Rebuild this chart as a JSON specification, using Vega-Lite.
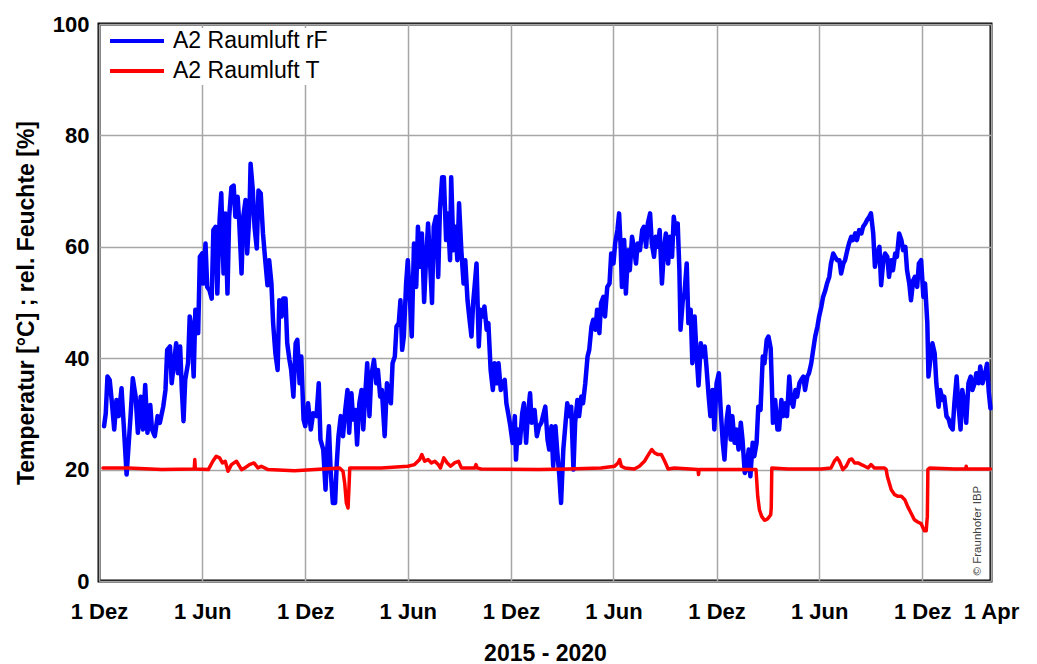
{
  "$schema": "https://vega.github.io/schema/vega-lite/v6.json",
  "width": 892,
  "height": 557,
  "autosize": {"type": "none"},
  "padding": {"left": 99, "top": 24, "right": 46, "bottom": 83},
  "background": "white",
  "datasets": {
    "rF": [
      {"date":"2015-12-10","value":27.8},{"date":"2015-12-13","value":30.1},{"date":"2015-12-16","value":36.7},{"date":"2015-12-20","value":36.1},{"date":"2015-12-24","value":31.9},{"date":"2015-12-28","value":27.2},
      {"date":"2016-01-01","value":32.5},{"date":"2016-01-05","value":29.6},{"date":"2016-01-10","value":34.6},{"date":"2016-01-14","value":27.8},{"date":"2016-01-19","value":19.1},{"date":"2016-01-22","value":23.6},{"date":"2016-01-26","value":29.6},{"date":"2016-01-30","value":36.4},
      {"date":"2016-02-04","value":33.1},{"date":"2016-02-08","value":26.6},{"date":"2016-02-13","value":33.1},{"date":"2016-02-17","value":27.2},{"date":"2016-02-21","value":35.2},{"date":"2016-02-25","value":26.6},
      {"date":"2016-03-01","value":31.6},{"date":"2016-03-04","value":27.2},{"date":"2016-03-09","value":26.0},{"date":"2016-03-14","value":29.6},{"date":"2016-03-18","value":28.4},{"date":"2016-03-24","value":31.3},{"date":"2016-03-28","value":34.3},{"date":"2016-03-31","value":41.5},
      {"date":"2016-04-05","value":42.1},{"date":"2016-04-08","value":35.5},{"date":"2016-04-12","value":39.1},{"date":"2016-04-16","value":42.7},{"date":"2016-04-19","value":37.3},{"date":"2016-04-23","value":42.1},{"date":"2016-04-26","value":34.3},{"date":"2016-04-29","value":28.7},
      {"date":"2016-05-02","value":36.1},{"date":"2016-05-07","value":39.1},{"date":"2016-05-10","value":47.5},{"date":"2016-05-13","value":45.7},{"date":"2016-05-17","value":36.7},{"date":"2016-05-20","value":48.7},{"date":"2016-05-25","value":44.5},{"date":"2016-05-28","value":58.2},
      {"date":"2016-06-01","value":58.8},{"date":"2016-06-03","value":53.4},{"date":"2016-06-07","value":60.6},{"date":"2016-06-10","value":52.8},{"date":"2016-06-14","value":52.2},{"date":"2016-06-18","value":50.7},{"date":"2016-06-21","value":63.0},{"date":"2016-06-25","value":63.6},{"date":"2016-06-28","value":51.6},
      {"date":"2016-07-02","value":64.8},{"date":"2016-07-05","value":69.6},{"date":"2016-07-09","value":55.2},{"date":"2016-07-12","value":66.0},{"date":"2016-07-16","value":51.6},{"date":"2016-07-19","value":65.4},{"date":"2016-07-23","value":70.7},{"date":"2016-07-27","value":71.0},{"date":"2016-07-30","value":65.4},
      {"date":"2016-08-03","value":69.0},{"date":"2016-08-06","value":64.2},{"date":"2016-08-10","value":55.2},{"date":"2016-08-13","value":65.4},{"date":"2016-08-17","value":68.4},{"date":"2016-08-20","value":58.8},{"date":"2016-08-24","value":66.0},{"date":"2016-08-26","value":74.9},{"date":"2016-08-30","value":70.1},
      {"date":"2016-09-02","value":63.6},{"date":"2016-09-06","value":59.7},{"date":"2016-09-09","value":70.1},{"date":"2016-09-13","value":69.6},{"date":"2016-09-17","value":62.4},{"date":"2016-09-21","value":57.6},{"date":"2016-09-25","value":53.1},{"date":"2016-09-28","value":57.6},
      {"date":"2016-10-02","value":53.4},{"date":"2016-10-05","value":46.3},{"date":"2016-10-09","value":40.9},{"date":"2016-10-13","value":37.9},{"date":"2016-10-16","value":50.4},{"date":"2016-10-20","value":47.5},{"date":"2016-10-23","value":50.7},{"date":"2016-10-27","value":50.7},{"date":"2016-10-30","value":42.7},
      {"date":"2016-11-03","value":39.7},{"date":"2016-11-06","value":37.9},{"date":"2016-11-10","value":33.1},{"date":"2016-11-14","value":42.7},{"date":"2016-11-17","value":43.3},{"date":"2016-11-21","value":35.5},{"date":"2016-11-24","value":40.3},{"date":"2016-11-28","value":29.0},
      {"date":"2016-12-01","value":27.8},{"date":"2016-12-06","value":31.9},{"date":"2016-12-11","value":27.2},{"date":"2016-12-15","value":30.1},{"date":"2016-12-21","value":29.6},{"date":"2016-12-25","value":35.5},{"date":"2016-12-28","value":25.4},
      {"date":"2017-01-02","value":23.6},{"date":"2017-01-06","value":16.4},{"date":"2017-01-09","value":23.6},{"date":"2017-01-12","value":27.8},{"date":"2017-01-15","value":20.0},{"date":"2017-01-19","value":14.0},{"date":"2017-01-23","value":14.0},{"date":"2017-01-26","value":21.2},{"date":"2017-01-29","value":26.0},
      {"date":"2017-02-02","value":29.6},{"date":"2017-02-06","value":26.0},{"date":"2017-02-10","value":30.7},{"date":"2017-02-14","value":34.3},{"date":"2017-02-17","value":26.6},{"date":"2017-02-21","value":33.7},{"date":"2017-02-24","value":29.0},{"date":"2017-02-28","value":30.7},
      {"date":"2017-03-03","value":24.5},{"date":"2017-03-07","value":31.9},{"date":"2017-03-11","value":34.3},{"date":"2017-03-14","value":27.2},{"date":"2017-03-18","value":34.3},{"date":"2017-03-21","value":39.1},{"date":"2017-03-25","value":29.6},{"date":"2017-03-28","value":36.7},
      {"date":"2017-04-02","value":39.7},{"date":"2017-04-06","value":35.5},{"date":"2017-04-09","value":37.9},{"date":"2017-04-13","value":33.1},{"date":"2017-04-16","value":34.3},{"date":"2017-04-21","value":26.0},{"date":"2017-04-25","value":35.5},{"date":"2017-04-28","value":33.7},
      {"date":"2017-05-02","value":31.9},{"date":"2017-05-05","value":39.1},{"date":"2017-05-09","value":40.3},{"date":"2017-05-12","value":45.7},{"date":"2017-05-16","value":46.3},{"date":"2017-05-19","value":50.4},{"date":"2017-05-22","value":41.5},{"date":"2017-05-25","value":43.9},{"date":"2017-05-29","value":53.4},
      {"date":"2017-06-01","value":57.6},{"date":"2017-06-05","value":50.1},{"date":"2017-06-08","value":43.9},{"date":"2017-06-12","value":60.6},{"date":"2017-06-16","value":52.8},{"date":"2017-06-19","value":63.6},{"date":"2017-06-23","value":56.4},{"date":"2017-06-26","value":62.4},{"date":"2017-06-30","value":50.1},
      {"date":"2017-07-03","value":56.9},{"date":"2017-07-07","value":64.2},{"date":"2017-07-10","value":58.2},{"date":"2017-07-14","value":49.9},{"date":"2017-07-17","value":63.6},{"date":"2017-07-21","value":65.4},{"date":"2017-07-25","value":54.6},{"date":"2017-07-28","value":66.6},
      {"date":"2017-08-01","value":72.5},{"date":"2017-08-04","value":72.5},{"date":"2017-08-08","value":61.2},{"date":"2017-08-11","value":66.0},{"date":"2017-08-15","value":57.6},{"date":"2017-08-17","value":72.5},{"date":"2017-08-21","value":59.4},{"date":"2017-08-24","value":63.6},{"date":"2017-08-28","value":57.6},{"date":"2017-08-31","value":67.8},
      {"date":"2017-09-04","value":59.4},{"date":"2017-09-08","value":53.4},{"date":"2017-09-11","value":57.6},{"date":"2017-09-15","value":50.4},{"date":"2017-09-18","value":47.5},{"date":"2017-09-22","value":43.9},{"date":"2017-09-25","value":49.9},{"date":"2017-09-28","value":53.4},
      {"date":"2017-10-01","value":57.0},{"date":"2017-10-05","value":42.1},{"date":"2017-10-08","value":48.7},{"date":"2017-10-12","value":47.5},{"date":"2017-10-15","value":49.3},{"date":"2017-10-19","value":45.1},{"date":"2017-10-22","value":46.3},{"date":"2017-10-26","value":37.9},{"date":"2017-10-30","value":34.3},
      {"date":"2017-11-02","value":39.1},{"date":"2017-11-06","value":35.5},{"date":"2017-11-09","value":39.1},{"date":"2017-11-13","value":34.3},{"date":"2017-11-16","value":35.5},{"date":"2017-11-20","value":36.1},{"date":"2017-11-23","value":31.9},{"date":"2017-11-27","value":29.6},{"date":"2017-11-30","value":27.8},
      {"date":"2017-12-04","value":24.8},{"date":"2017-12-08","value":29.6},{"date":"2017-12-10","value":21.8},{"date":"2017-12-13","value":27.2},{"date":"2017-12-17","value":24.8},{"date":"2017-12-21","value":30.1},{"date":"2017-12-24","value":31.9},{"date":"2017-12-28","value":24.8},{"date":"2017-12-31","value":29.6},
      {"date":"2018-01-04","value":33.7},{"date":"2018-01-07","value":28.4},{"date":"2018-01-12","value":30.7},{"date":"2018-01-16","value":26.0},{"date":"2018-01-20","value":27.8},{"date":"2018-01-24","value":28.4},{"date":"2018-01-31","value":31.3},
      {"date":"2018-02-04","value":25.4},{"date":"2018-02-07","value":23.6},{"date":"2018-02-11","value":27.8},{"date":"2018-02-14","value":20.6},{"date":"2018-02-18","value":27.8},{"date":"2018-02-21","value":23.6},{"date":"2018-02-25","value":18.8},{"date":"2018-02-28","value":14.0},
      {"date":"2018-03-04","value":23.6},{"date":"2018-03-08","value":28.4},{"date":"2018-03-11","value":31.9},{"date":"2018-03-15","value":29.6},{"date":"2018-03-18","value":31.3},{"date":"2018-03-22","value":20.0},{"date":"2018-03-25","value":28.4},{"date":"2018-03-29","value":32.5},
      {"date":"2018-04-01","value":29.6},{"date":"2018-04-05","value":33.1},{"date":"2018-04-08","value":31.9},{"date":"2018-04-12","value":35.5},{"date":"2018-04-16","value":40.3},{"date":"2018-04-19","value":41.5},{"date":"2018-04-23","value":45.7},{"date":"2018-04-26","value":46.9},{"date":"2018-04-30","value":45.1},
      {"date":"2018-05-03","value":48.7},{"date":"2018-05-07","value":44.5},{"date":"2018-05-10","value":49.9},{"date":"2018-05-14","value":51.0},{"date":"2018-05-17","value":47.5},{"date":"2018-05-21","value":52.8},{"date":"2018-05-25","value":53.4},{"date":"2018-05-28","value":58.8},
      {"date":"2018-06-01","value":57.0},{"date":"2018-06-04","value":60.6},{"date":"2018-06-08","value":63.0},{"date":"2018-06-11","value":66.0},{"date":"2018-06-14","value":59.4},{"date":"2018-06-16","value":52.8},{"date":"2018-06-20","value":61.2},{"date":"2018-06-23","value":51.6},{"date":"2018-06-27","value":59.4},{"date":"2018-06-30","value":55.8},
      {"date":"2018-07-04","value":61.8},{"date":"2018-07-07","value":60.0},{"date":"2018-07-11","value":57.0},{"date":"2018-07-14","value":60.6},{"date":"2018-07-18","value":59.4},{"date":"2018-07-22","value":63.0},{"date":"2018-07-25","value":63.6},{"date":"2018-07-29","value":60.0},
      {"date":"2018-08-01","value":64.2},{"date":"2018-08-05","value":66.0},{"date":"2018-08-08","value":60.6},{"date":"2018-08-12","value":58.2},{"date":"2018-08-15","value":61.8},{"date":"2018-08-19","value":60.0},{"date":"2018-08-22","value":63.0},{"date":"2018-08-26","value":53.4},{"date":"2018-08-30","value":60.0},
      {"date":"2018-09-02","value":62.4},{"date":"2018-09-06","value":57.0},{"date":"2018-09-09","value":61.8},{"date":"2018-09-13","value":58.2},{"date":"2018-09-16","value":65.4},{"date":"2018-09-20","value":62.4},{"date":"2018-09-23","value":64.2},{"date":"2018-09-26","value":55.8},{"date":"2018-09-28","value":45.1},
      {"date":"2018-10-02","value":50.4},{"date":"2018-10-05","value":51.6},{"date":"2018-10-09","value":57.0},{"date":"2018-10-12","value":46.3},{"date":"2018-10-16","value":48.7},{"date":"2018-10-19","value":39.1},{"date":"2018-10-23","value":47.5},{"date":"2018-10-26","value":41.5},{"date":"2018-10-30","value":35.1},
      {"date":"2018-11-03","value":42.7},{"date":"2018-11-06","value":40.3},{"date":"2018-11-10","value":42.1},{"date":"2018-11-13","value":38.5},{"date":"2018-11-17","value":33.1},{"date":"2018-11-20","value":29.6},{"date":"2018-11-24","value":34.3},{"date":"2018-11-27","value":27.2},
      {"date":"2018-12-01","value":35.5},{"date":"2018-12-05","value":37.3},{"date":"2018-12-08","value":31.3},{"date":"2018-12-12","value":24.8},{"date":"2018-12-15","value":21.8},{"date":"2018-12-19","value":29.0},{"date":"2018-12-22","value":31.3},{"date":"2018-12-26","value":25.4},{"date":"2018-12-29","value":29.6},
      {"date":"2019-01-02","value":24.8},{"date":"2019-01-05","value":27.2},{"date":"2019-01-09","value":23.6},{"date":"2019-01-13","value":28.4},{"date":"2019-01-16","value":25.4},{"date":"2019-01-20","value":19.4},{"date":"2019-01-23","value":20.0},{"date":"2019-01-27","value":23.6},{"date":"2019-01-30","value":18.8},
      {"date":"2019-02-03","value":24.8},{"date":"2019-02-06","value":22.4},{"date":"2019-02-10","value":24.8},{"date":"2019-02-13","value":31.3},{"date":"2019-02-17","value":30.7},{"date":"2019-02-21","value":40.3},{"date":"2019-02-24","value":39.1},{"date":"2019-02-28","value":43.3},
      {"date":"2019-03-03","value":43.9},{"date":"2019-03-07","value":41.8},{"date":"2019-03-09","value":35.5},{"date":"2019-03-11","value":28.4},{"date":"2019-03-15","value":32.5},{"date":"2019-03-19","value":27.2},{"date":"2019-03-22","value":27.2},{"date":"2019-03-26","value":32.5},{"date":"2019-03-29","value":29.6},
      {"date":"2019-04-02","value":31.9},{"date":"2019-04-05","value":29.6},{"date":"2019-04-09","value":36.7},{"date":"2019-04-12","value":32.5},{"date":"2019-04-16","value":31.3},{"date":"2019-04-20","value":34.3},{"date":"2019-04-23","value":33.1},{"date":"2019-04-27","value":35.5},{"date":"2019-04-30","value":36.1},
      {"date":"2019-05-04","value":36.7},{"date":"2019-05-07","value":34.3},{"date":"2019-05-11","value":36.7},{"date":"2019-05-14","value":37.3},{"date":"2019-05-18","value":39.1},{"date":"2019-05-21","value":41.2},{"date":"2019-05-25","value":43.9},{"date":"2019-05-29","value":45.7},
      {"date":"2019-06-01","value":47.5},{"date":"2019-06-05","value":49.3},{"date":"2019-06-08","value":51.0},{"date":"2019-06-12","value":52.2},{"date":"2019-06-15","value":53.4},{"date":"2019-06-19","value":54.6},{"date":"2019-06-22","value":57.0},{"date":"2019-06-26","value":58.8},{"date":"2019-06-29","value":58.2},
      {"date":"2019-07-03","value":57.6},{"date":"2019-07-07","value":57.6},{"date":"2019-07-10","value":55.2},{"date":"2019-07-14","value":57.0},{"date":"2019-07-17","value":57.6},{"date":"2019-07-21","value":59.4},{"date":"2019-07-24","value":60.6},{"date":"2019-07-28","value":61.8},{"date":"2019-07-31","value":61.2},
      {"date":"2019-08-04","value":62.4},{"date":"2019-08-07","value":61.2},{"date":"2019-08-11","value":63.0},{"date":"2019-08-15","value":62.4},{"date":"2019-08-18","value":63.6},{"date":"2019-08-22","value":64.2},{"date":"2019-08-25","value":64.8},{"date":"2019-08-29","value":65.4},
      {"date":"2019-09-01","value":66.0},{"date":"2019-09-05","value":62.4},{"date":"2019-09-08","value":56.4},{"date":"2019-09-12","value":58.8},{"date":"2019-09-16","value":60.0},{"date":"2019-09-19","value":53.1},{"date":"2019-09-23","value":57.6},{"date":"2019-09-26","value":58.8},{"date":"2019-09-30","value":58.2},
      {"date":"2019-10-03","value":54.6},{"date":"2019-10-07","value":57.6},{"date":"2019-10-10","value":55.8},{"date":"2019-10-14","value":58.8},{"date":"2019-10-17","value":58.2},{"date":"2019-10-21","value":62.4},{"date":"2019-10-25","value":61.2},{"date":"2019-10-28","value":59.4},
      {"date":"2019-11-01","value":60.0},{"date":"2019-11-04","value":55.8},{"date":"2019-11-08","value":53.4},{"date":"2019-11-11","value":50.4},{"date":"2019-11-15","value":54.0},{"date":"2019-11-18","value":54.6},{"date":"2019-11-22","value":52.8},{"date":"2019-11-25","value":57.0},{"date":"2019-11-29","value":57.6},
      {"date":"2019-12-03","value":51.0},{"date":"2019-12-06","value":53.4},{"date":"2019-12-10","value":46.3},{"date":"2019-12-12","value":36.7},{"date":"2019-12-16","value":40.3},{"date":"2019-12-19","value":42.7},{"date":"2019-12-23","value":40.9},{"date":"2019-12-26","value":35.5},{"date":"2019-12-30","value":31.3},
      {"date":"2020-01-02","value":34.3},{"date":"2020-01-06","value":32.5},{"date":"2020-01-09","value":33.1},{"date":"2020-01-13","value":29.6},{"date":"2020-01-17","value":29.0},{"date":"2020-01-20","value":27.8},{"date":"2020-01-24","value":27.2},{"date":"2020-01-27","value":31.9},{"date":"2020-01-31","value":36.7},
      {"date":"2020-02-03","value":31.9},{"date":"2020-02-07","value":27.2},{"date":"2020-02-10","value":34.3},{"date":"2020-02-14","value":31.9},{"date":"2020-02-17","value":28.4},{"date":"2020-02-21","value":35.5},{"date":"2020-02-25","value":36.7},{"date":"2020-02-28","value":34.3},
      {"date":"2020-03-03","value":35.5},{"date":"2020-03-06","value":37.3},{"date":"2020-03-10","value":35.5},{"date":"2020-03-13","value":38.5},{"date":"2020-03-17","value":35.5},{"date":"2020-03-21","value":37.0},{"date":"2020-03-25","value":39.0},{"date":"2020-03-28","value":34.0},{"date":"2020-03-31","value":31.0}
    ],
    "T": [
      {"date":"2015-12-08","value":20.3},{"date":"2016-01-22","value":20.3},{"date":"2016-03-21","value":20.0},{"date":"2016-05-16","value":20.1},{"date":"2016-05-18","value":20.1},{"date":"2016-05-19","value":21.8},{"date":"2016-05-20","value":20.1},
      {"date":"2016-06-12","value":20.0},{"date":"2016-06-20","value":21.5},{"date":"2016-06-26","value":22.4},{"date":"2016-07-02","value":22.1},{"date":"2016-07-07","value":21.2},{"date":"2016-07-12","value":21.5},{"date":"2016-07-17","value":19.7},{"date":"2016-07-23","value":20.9},
      {"date":"2016-08-01","value":21.5},{"date":"2016-08-10","value":20.0},{"date":"2016-08-16","value":20.3},{"date":"2016-08-24","value":20.9},{"date":"2016-09-01","value":21.2},{"date":"2016-09-08","value":20.3},{"date":"2016-09-14","value":20.6},{"date":"2016-09-26","value":20.0},
      {"date":"2016-11-12","value":19.8},{"date":"2016-12-18","value":20.0},{"date":"2017-01-31","value":20.3},{"date":"2017-02-06","value":19.7},{"date":"2017-02-09","value":17.6},{"date":"2017-02-12","value":14.0},{"date":"2017-02-15","value":13.1},{"date":"2017-02-17","value":17.6},{"date":"2017-02-18","value":20.3},
      {"date":"2017-04-15","value":20.3},{"date":"2017-06-01","value":20.6},{"date":"2017-06-13","value":20.9},{"date":"2017-06-22","value":21.8},{"date":"2017-06-26","value":22.7},{"date":"2017-07-01","value":21.5},{"date":"2017-07-07","value":21.8},{"date":"2017-07-13","value":21.2},{"date":"2017-07-19","value":21.5},{"date":"2017-07-25","value":20.9},{"date":"2017-07-29","value":20.3},
      {"date":"2017-08-04","value":22.1},{"date":"2017-08-10","value":21.2},{"date":"2017-08-16","value":20.6},{"date":"2017-08-23","value":21.2},{"date":"2017-08-30","value":21.5},{"date":"2017-09-04","value":20.3},{"date":"2017-09-28","value":20.3},{"date":"2017-09-30","value":20.9},{"date":"2017-10-02","value":20.3},{"date":"2017-10-09","value":20.1},
      {"date":"2018-01-19","value":20.0},{"date":"2018-03-12","value":20.1},{"date":"2018-05-10","value":20.3},{"date":"2018-06-03","value":20.6},{"date":"2018-06-09","value":21.2},{"date":"2018-06-12","value":21.8},{"date":"2018-06-15","value":20.6},{"date":"2018-06-21","value":20.3},
      {"date":"2018-07-08","value":20.1},{"date":"2018-07-17","value":20.6},{"date":"2018-07-26","value":21.5},{"date":"2018-08-04","value":23.0},{"date":"2018-08-08","value":23.6},{"date":"2018-08-13","value":23.0},{"date":"2018-08-19","value":22.7},{"date":"2018-08-25","value":22.7},{"date":"2018-08-31","value":21.5},
      {"date":"2018-09-06","value":20.1},{"date":"2018-09-17","value":20.3},{"date":"2018-10-29","value":20.0},{"date":"2018-10-30","value":19.1},{"date":"2018-10-31","value":20.0},{"date":"2019-01-02","value":20.0},
      {"date":"2019-02-09","value":20.0},{"date":"2019-02-12","value":15.2},{"date":"2019-02-15","value":12.8},{"date":"2019-02-19","value":11.6},{"date":"2019-02-24","value":10.9},{"date":"2019-03-01","value":11.1},{"date":"2019-03-05","value":11.6},{"date":"2019-03-07","value":11.9},{"date":"2019-03-08","value":13.1},{"date":"2019-03-09","value":20.3},
      {"date":"2019-04-06","value":20.1},{"date":"2019-06-05","value":20.1},{"date":"2019-06-22","value":20.3},{"date":"2019-06-28","value":21.5},{"date":"2019-07-03","value":22.1},{"date":"2019-07-07","value":21.5},{"date":"2019-07-13","value":20.0},{"date":"2019-07-19","value":20.6},{"date":"2019-07-25","value":21.8},{"date":"2019-07-29","value":21.9},
      {"date":"2019-08-03","value":21.2},{"date":"2019-08-09","value":21.2},{"date":"2019-08-15","value":20.9},{"date":"2019-08-21","value":20.6},{"date":"2019-08-27","value":20.3},{"date":"2019-09-01","value":20.9},{"date":"2019-09-07","value":20.3},{"date":"2019-09-25","value":20.3},{"date":"2019-09-28","value":20.0},{"date":"2019-09-30","value":18.8},
      {"date":"2019-10-07","value":16.4},{"date":"2019-10-13","value":15.5},{"date":"2019-10-19","value":15.2},{"date":"2019-10-25","value":15.2},{"date":"2019-10-31","value":14.6},{"date":"2019-11-05","value":13.4},{"date":"2019-11-11","value":12.2},{"date":"2019-11-17","value":11.0},{"date":"2019-11-23","value":10.6},{"date":"2019-11-29","value":10.3},
      {"date":"2019-12-02","value":9.6},{"date":"2019-12-05","value":9.0},{"date":"2019-12-08","value":9.0},{"date":"2019-12-10","value":11.6},{"date":"2019-12-11","value":20.0},{"date":"2019-12-14","value":20.3},
      {"date":"2020-01-27","value":20.1},{"date":"2020-02-16","value":20.1},{"date":"2020-02-17","value":20.6},{"date":"2020-02-18","value":20.1},{"date":"2020-03-31","value":20.1}
    ],
    "note": [
      {"date":"2020-03-15","value":1.0,"label":"© Fraunhofer IBP"}
    ]
  },
  "encoding": {
    "x": {
      "field": "date",
      "type": "temporal",
      "title": "2015 - 2020",
      "scale": {
        "type": "utc",
        "domain": [{"year": 2015, "month": 12, "date": 1, "utc": true}, {"year": 2020, "month": 4, "date": 1, "utc": true}]
      },
      "axis": {
        "values": [
          {"year": 2015, "month": 12, "date": 1, "utc": true},
          {"year": 2016, "month": 6, "date": 1, "utc": true},
          {"year": 2016, "month": 12, "date": 1, "utc": true},
          {"year": 2017, "month": 6, "date": 1, "utc": true},
          {"year": 2017, "month": 12, "date": 1, "utc": true},
          {"year": 2018, "month": 6, "date": 1, "utc": true},
          {"year": 2018, "month": 12, "date": 1, "utc": true},
          {"year": 2019, "month": 6, "date": 1, "utc": true},
          {"year": 2019, "month": 12, "date": 1, "utc": true},
          {"year": 2020, "month": 4, "date": 1, "utc": true}
        ],
        "labelExpr": "utcmonth(datum.value) == 11 ? '1 Dez' : (utcmonth(datum.value) == 5 ? '1 Jun' : '1 Apr')",
        "labelFlush": false,
        "labelOverlap": false,
        "labelBaseline": "alphabetic",
        "labelPadding": 37,
        "titleBaseline": "alphabetic",
        "titleY": 79
      }
    },
    "y": {
      "field": "value",
      "type": "quantitative",
      "title": "Temperatur [°C] ; rel. Feuchte [%]",
      "scale": {"domain": [0, 100], "nice": false},
      "axis": {
        "values": [0, 20, 40, 60, 80, 100],
        "labelPadding": 10,
        "titleAngle": 270,
        "titleBaseline": "alphabetic",
        "titleAlign": "center",
        "titleX": -66,
        "titleY": 278.5
      }
    }
  },
  "layer": [
    {
      "data": {"name": "rF"},
      "mark": {"type": "line", "strokeWidth": 4.5, "strokeJoin": "round", "strokeCap": "round"},
      "encoding": {
        "color": {
          "datum": "A2 Raumluft rF",
          "type": "nominal",
          "scale": {"domain": ["A2 Raumluft rF", "A2 Raumluft T"], "range": ["#0000ff", "#ff0000"]},
          "legend": {"title": null}
        }
      }
    },
    {
      "data": {"name": "T"},
      "mark": {"type": "line", "strokeWidth": 3.5, "strokeJoin": "round", "strokeCap": "round"},
      "encoding": {
        "color": {"datum": "A2 Raumluft T", "type": "nominal"}
      }
    },
    {
      "data": {"name": "note"},
      "mark": {"type": "text", "angle": 270, "align": "left", "baseline": "alphabetic", "fontSize": 11.5, "font": "Liberation Sans", "color": "#404040"},
      "encoding": {
        "text": {"field": "label", "type": "nominal"}
      }
    }
  ],
  "config": {
    "font": "Liberation Sans",
    "view": {"stroke": "#000000", "strokeWidth": 3},
    "axis": {
      "domain": false,
      "ticks": false,
      "tickSize": 0,
      "grid": true,
      "gridColor": "#a6a6a6",
      "gridWidth": 1.5,
      "gridOpacity": 1,
      "labelFont": "Liberation Sans",
      "labelFontSize": 22,
      "labelFontWeight": "bold",
      "labelColor": "#000000",
      "titleFont": "Liberation Sans",
      "titleFontSize": 23,
      "titleFontWeight": "bold",
      "titleColor": "#000000"
    },
    "legend": {
      "orient": "none",
      "legendX": 7,
      "legendY": 4,
      "direction": "vertical",
      "fillColor": "#ffffff",
      "padding": 2,
      "labelFont": "Liberation Sans",
      "labelFontSize": 23,
      "labelColor": "#000000",
      "labelOffset": 7,
      "symbolType": "stroke",
      "symbolSize": 2916,
      "symbolStrokeWidth": 4,
      "rowPadding": 7,
      "clipHeight": 22
    }
  }
}
